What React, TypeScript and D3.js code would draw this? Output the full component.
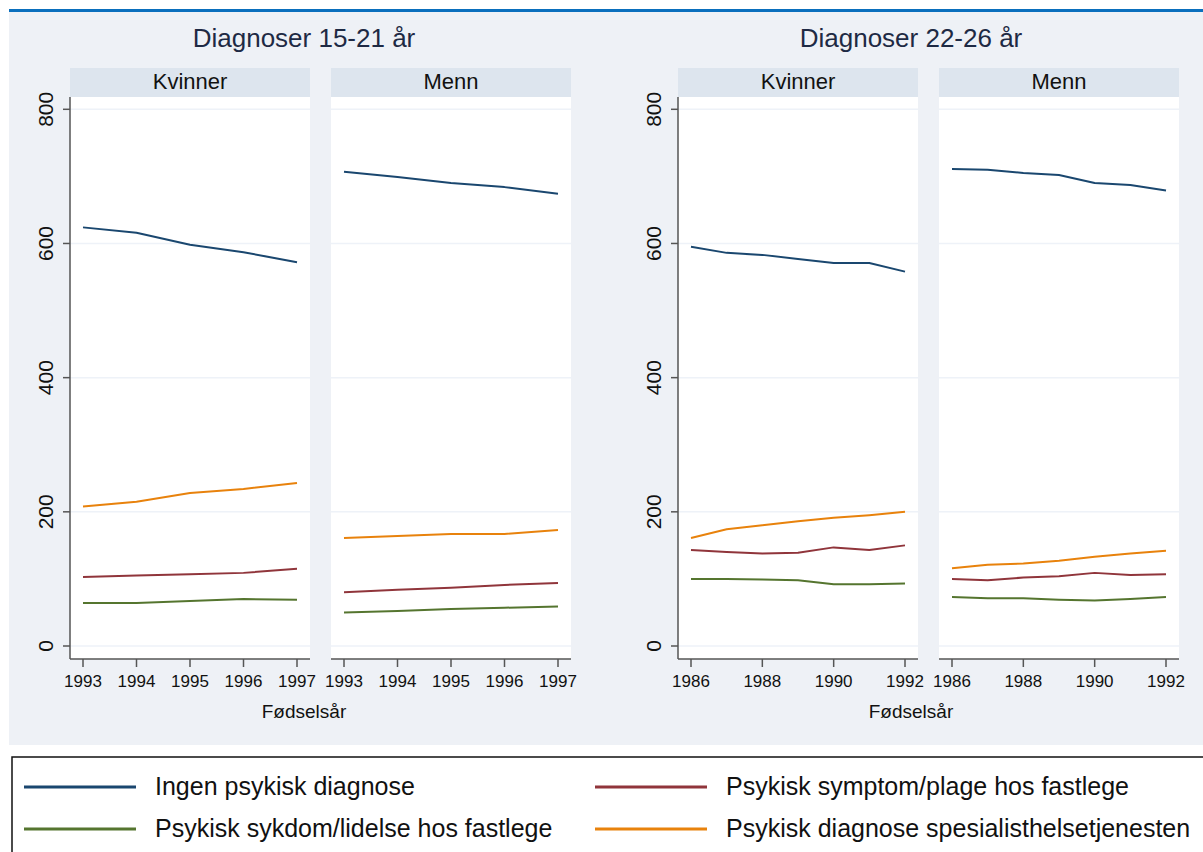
import React from "react";
import * as d3 from "d3";

const seriesNames = [
  "Ingen psykisk diagnose",
  "Psykisk symptom/plage hos fastlege",
  "Psykisk sykdom/lidelse hos fastlege",
  "Psykisk diagnose spesialisthelsetjenesten",
];
const seriesColors = ["#1a476f", "#90353b", "#55752f", "#e8820c"];

const groupTitles = ["Diagnoser 15-21 år", "Diagnoser 22-26 år"];
const panelTitles = ["Kvinner", "Menn"];

const yearsA = [1993, 1994, 1995, 1996, 1997];
const yearsB = [1986, 1987, 1988, 1989, 1990, 1991, 1992];
const ticksA = [1993, 1994, 1995, 1996, 1997];
const ticksB = [1986, 1988, 1990, 1992];
const yTicks = [0, 200, 400, 600, 800];

// Diagnoser 15-21 år, Kvinner
const a_k_ingen = [624, 616, 598, 587, 572];
const a_k_symptom = [103, 105, 107, 109, 115];
const a_k_sykdom = [64, 64, 67, 70, 69];
const a_k_spes = [208, 215, 228, 234, 243];
// Diagnoser 15-21 år, Menn
const a_m_ingen = [707, 699, 690, 684, 674];
const a_m_symptom = [80, 84, 87, 91, 94];
const a_m_sykdom = [50, 52, 55, 57, 59];
const a_m_spes = [161, 164, 167, 167, 173];
// Diagnoser 22-26 år, Kvinner
const b_k_ingen = [595, 586, 583, 577, 571, 571, 558];
const b_k_symptom = [143, 140, 138, 139, 147, 143, 150];
const b_k_sykdom = [100, 100, 99, 98, 92, 92, 93];
const b_k_spes = [161, 174, 180, 186, 191, 195, 200];
// Diagnoser 22-26 år, Menn
const b_m_ingen = [711, 710, 705, 702, 690, 687, 679];
const b_m_symptom = [100, 98, 102, 104, 109, 106, 107];
const b_m_sykdom = [73, 71, 71, 69, 68, 70, 73];
const b_m_spes = [116, 121, 123, 127, 133, 138, 142];

const FONT = "'Liberation Sans', Arial, Helvetica, sans-serif";

type Panel = {
  x0: number;
  years: number[];
  ticks: number[];
  series: number[][];
  title: string;
  yAxis: boolean;
};

const groups = [
  {
    title: groupTitles[0],
    titleX: 304,
    panels: [
      { x0: 70, years: yearsA, ticks: ticksA, series: [a_k_ingen, a_k_symptom, a_k_sykdom, a_k_spes], title: panelTitles[0], yAxis: true },
      { x0: 331, years: yearsA, ticks: ticksA, series: [a_m_ingen, a_m_symptom, a_m_sykdom, a_m_spes], title: panelTitles[1], yAxis: false },
    ] as Panel[],
  },
  {
    title: groupTitles[1],
    titleX: 911,
    panels: [
      { x0: 678, years: yearsB, ticks: ticksB, series: [b_k_ingen, b_k_symptom, b_k_sykdom, b_k_spes], title: panelTitles[0], yAxis: true },
      { x0: 939, years: yearsB, ticks: ticksB, series: [b_m_ingen, b_m_symptom, b_m_sykdom, b_m_spes], title: panelTitles[1], yAxis: false },
    ] as Panel[],
  },
];

const PW = 240;
const PAD = 13;
const HEAD_TOP = 68;
const PLOT_TOP = 97;
const PLOT_BOT = 659;

const y = d3.scaleLinear().domain([0, 800]).range([646, 109.3]);

function PanelView({ p }: { p: Panel }) {
  const x = d3
    .scaleLinear()
    .domain([p.years[0], p.years[p.years.length - 1]])
    .range([p.x0 + PAD, p.x0 + PW - PAD]);
  const line = d3
    .line<number>()
    .x((_, i) => x(p.years[i]))
    .y((d) => y(d));
  return (
    <g>
      <rect x={p.x0} y={HEAD_TOP} width={PW} height={PLOT_TOP - HEAD_TOP} fill="#dde5ee" />
      <text x={p.x0 + PW / 2} y={89} textAnchor="middle" fontSize={22} fill="#111" fontFamily={FONT}>
        {p.title}
      </text>
      <rect x={p.x0} y={PLOT_TOP} width={PW} height={PLOT_BOT - PLOT_TOP} fill="#ffffff" />
      {yTicks.map((t) => (
        <line key={t} x1={p.x0} x2={p.x0 + PW} y1={y(t)} y2={y(t)} stroke="#eef2f8" strokeWidth={1.5} />
      ))}
      {p.series.map((s, i) => (
        <path key={i} d={line(s) || ""} fill="none" stroke={seriesColors[i]} strokeWidth={2} strokeLinejoin="round" />
      ))}
      <line x1={p.x0} x2={p.x0 + PW} y1={PLOT_BOT} y2={PLOT_BOT} stroke="#555" strokeWidth={1.5} />
      {p.ticks.map((t) => (
        <g key={t}>
          <line x1={x(t)} x2={x(t)} y1={PLOT_BOT} y2={PLOT_BOT + 8} stroke="#555" strokeWidth={1.5} />
          <text x={x(t)} y={687} textAnchor="middle" fontSize={17} fill="#111" fontFamily={FONT}>
            {t}
          </text>
        </g>
      ))}
      {p.yAxis && (
        <g>
          <line x1={p.x0} x2={p.x0} y1={PLOT_TOP} y2={PLOT_BOT} stroke="#555" strokeWidth={1.5} />
          {yTicks.map((t) => (
            <g key={t}>
              <line x1={p.x0 - 7} x2={p.x0} y1={y(t)} y2={y(t)} stroke="#555" strokeWidth={1.5} />
              <text
                transform={`translate(${p.x0 - 17},${y(t)}) rotate(-90)`}
                textAnchor="middle"
                fontSize={21}
                fill="#111"
                fontFamily={FONT}
              >
                {t}
              </text>
            </g>
          ))}
        </g>
      )}
    </g>
  );
}

export default function App() {
  const legendItems = [
    { i: 0, x: 24, y: 787 },
    { i: 1, x: 595, y: 787 },
    { i: 2, x: 24, y: 829 },
    { i: 3, x: 595, y: 829 },
  ];
  return (
    <svg
      width={1203}
      height={852}
      style={{ position: "absolute", left: 0, top: 0, display: "block" }}
    >
      <rect x={0} y={0} width={1203} height={852} fill="#ffffff" />
      <rect x={9} y={12} width={1194} height={733} fill="#eef1f6" />
      <rect x={9} y={9} width={1194} height={3} fill="#0a6fbd" />
      {groups.map((g, gi) => (
        <g key={gi}>
          <text x={g.titleX} y={47} textAnchor="middle" fontSize={26} fill="#1e2a44" fontFamily={FONT}>
            {g.title}
          </text>
          {g.panels.map((p, pi) => (
            <PanelView key={pi} p={p} />
          ))}
          <text x={g.titleX} y={718} textAnchor="middle" fontSize={19} fill="#111" fontFamily={FONT}>
            Fødselsår
          </text>
        </g>
      ))}
      <rect x={12} y={757} width={1200} height={100} fill="#ffffff" stroke="#111" strokeWidth={1.5} />
      {legendItems.map((it) => (
        <g key={it.i}>
          <line x1={it.x} x2={it.x + 112} y1={it.y} y2={it.y} stroke={seriesColors[it.i]} strokeWidth={3} />
          <text x={it.x + 131} y={it.y + 8} fontSize={25} fill="#111" fontFamily={FONT}>
            {seriesNames[it.i]}
          </text>
        </g>
      ))}
    </svg>
  );
}
